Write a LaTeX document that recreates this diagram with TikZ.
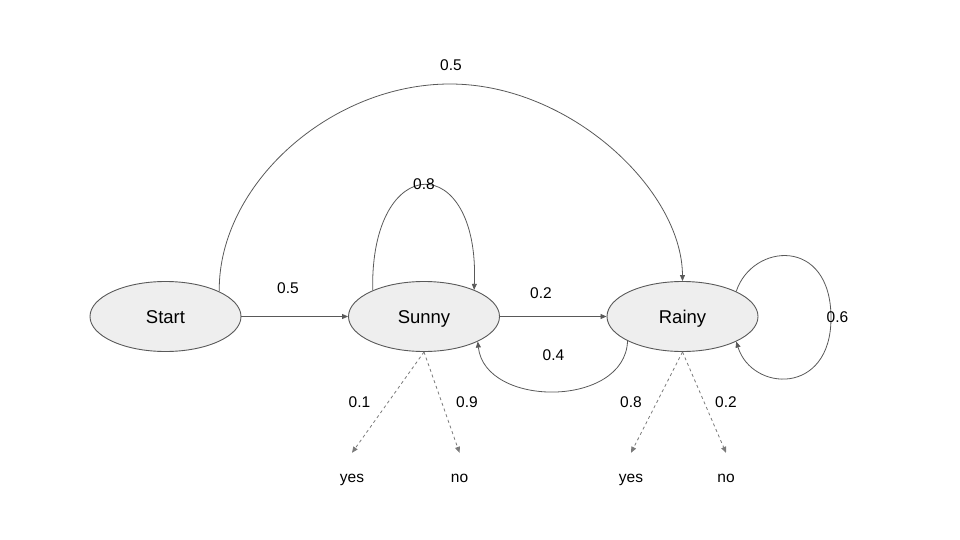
\documentclass[tikz,border=0pt]{standalone}
\usepackage{fontspec}
\setmainfont{Liberation Sans}
\usetikzlibrary{shapes.geometric,arrows.meta}
\definecolor{edgec}{HTML}{595959}
\definecolor{dashc}{HTML}{7A7A7A}
\definecolor{fillc}{HTML}{EEEEEE}
\begin{document}
\begin{tikzpicture}[x=1pt,y=-1pt,
  state/.style={ellipse,draw=edgec,fill=fillc,line width=0.9pt,minimum width=151pt,minimum height=70pt,inner sep=0pt,text height=13.3pt,text depth=0pt,font=\fontsize{18.5}{22}\selectfont},
  lbl/.style={inner sep=0pt,font=\fontsize{15.5}{18}\selectfont},
  obs/.style={inner xsep=0pt,inner ysep=21pt,text height=8pt,text depth=3pt,font=\fontsize{15.5}{18}\selectfont},
  edge/.style={draw=edgec,line width=0.8pt,-{Triangle[length=6pt,width=5pt]}},
  emit/.style={draw=dashc,line width=0.8pt,dash pattern=on 3pt off 3pt,-{Triangle[length=6pt,width=5pt]}}]
\useasboundingbox (0,0) rectangle (960,540);
\node[state] (start) at (165.5,316.5) {Start};
\node[state] (sunny) at (424,316.5) {Sunny};
\node[state] (rainy) at (682.5,316.5) {Rainy};
\node[obs] (yes1) at (352,479.5) {yes};
\node[obs] (no1) at (459.5,479.5) {no};
\node[obs] (yes2) at (631,479.5) {yes};
\node[obs] (no2) at (726,479.5) {no};
% transitions
\draw[edge] (start) -- (sunny);
\draw[edge] (sunny) -- (rainy);
\draw[edge] (start.25) .. controls (218,185) and (330,84) .. (450,84)
  .. controls (570,84) and (682,190) .. (rainy.north);
\draw[edge] (sunny.153) .. controls (370,150) and (480,150) .. (sunny.28);
\draw[edge] (rainy.25) .. controls (752,243) and (831,236) .. (831,318)
  .. controls (831,396) and (752,392) .. (rainy.-25);
\draw[edge] (rainy.204) .. controls (625,408) and (485,408) .. (sunny.-25);
% emissions
\draw[emit] (sunny.south) -- (yes1.north);
\draw[emit] (sunny.south) -- (no1.north);
\draw[emit] (rainy.south) -- (yes2.north);
\draw[emit] (rainy.south) -- (no2.north);
% labels
\node[lbl] (l1) at (451,65) {0.5};
\node[lbl] (l2) at (288,288.5) {0.5};
\node[lbl] (l3) at (541,293) {0.2};
\node[lbl] (l4) at (424,184) {0.8};
\node[lbl] (l5) at (553.5,355.5) {0.4};
\node[lbl] (l6) at (837.5,317.5) {0.6};
\node[lbl] (l7) at (359.5,402.5) {0.1};
\node[lbl] (l8) at (467,402.5) {0.9};
\node[lbl] (l9) at (631,402.5) {0.8};
\node[lbl] (l10) at (726,402.5) {0.2};
\end{tikzpicture}
\end{document}
